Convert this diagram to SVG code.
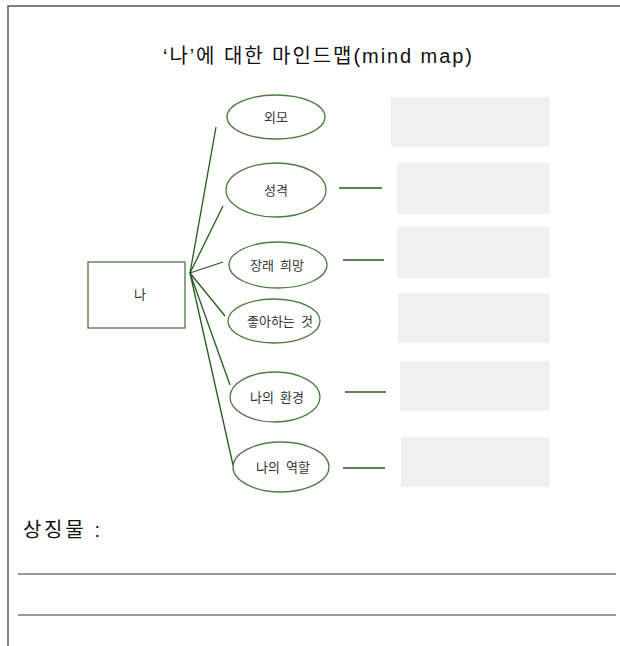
<svg xmlns="http://www.w3.org/2000/svg" width="620" height="646" viewBox="0 0 620 646">
<style>
.frame{stroke:#555;stroke-width:1.5;fill:none}
.ell{fill:#fff;stroke:#4f7a45;stroke-width:1.3}
.box{fill:#f0f0f0}
.con{stroke:#245a1a;stroke-width:1.3;fill:none}
.lbl{font-family:"Liberation Serif","Noto Sans CJK KR",serif;font-size:13px;fill:#333;text-anchor:middle;word-spacing:3px}
.title{font-family:"Liberation Sans","Noto Sans CJK KR",sans-serif;font-size:20px;fill:#111}
.wline{stroke:#333;stroke-width:1.2}
</style>
<rect width="620" height="646" fill="#fff"/>
<path class="frame" d="M8 646 V6 H620"/>
<text class="title" x="163" y="63" textLength="309" lengthAdjust="spacing">‘나’에 대한 마인드맵(mind map)</text>
<g id="connectors">
<line class="con" x1="190" y1="273" x2="216" y2="127"/>
<line class="con" x1="190" y1="273" x2="223" y2="206"/>
<line class="con" x1="190" y1="273" x2="223" y2="262"/>
<line class="con" x1="190" y1="273" x2="225" y2="316"/>
<line class="con" x1="190" y1="273" x2="230" y2="385"/>
<line class="con" x1="190" y1="273" x2="233" y2="465"/>
<line class="con" x1="339" y1="188" x2="382" y2="188"/>
<line class="con" x1="343" y1="260" x2="384" y2="260"/>
<line class="con" x1="345" y1="392" x2="386" y2="392"/>
<line class="con" x1="343" y1="468" x2="385" y2="468"/>
</g>
<g id="me">
<rect x="88" y="262" width="97" height="66" fill="#fff" stroke="#4f7a45" stroke-width="1.3"/>
<text class="lbl" x="140" y="299">나</text>
</g>
<g id="n1"><ellipse class="ell" cx="276" cy="117" rx="49" ry="22"/><text class="lbl" x="276" y="122">외모</text></g>
<g id="n2"><ellipse class="ell" cx="276" cy="190" rx="50" ry="27"/><text class="lbl" x="276" y="195">성격</text></g>
<g id="n3"><ellipse class="ell" cx="278" cy="265" rx="49" ry="23"/><text class="lbl" x="277" y="270">장래 희망</text></g>
<g id="n4"><ellipse class="ell" cx="274" cy="321" rx="46" ry="22"/><text class="lbl" x="280" y="326">좋아하는 것</text></g>
<g id="n5"><ellipse class="ell" cx="275" cy="397" rx="45" ry="25"/><text class="lbl" x="277" y="402">나의 환경</text></g>
<g id="n6"><ellipse class="ell" cx="281" cy="467" rx="48" ry="25"/><text class="lbl" x="283" y="472">나의 역할</text></g>
<g id="boxes">
<rect class="box" x="391" y="97" width="159" height="50"/>
<rect class="box" x="397" y="163" width="153" height="51"/>
<rect class="box" x="397" y="227" width="153" height="51"/>
<rect class="box" x="398" y="293" width="152" height="50"/>
<rect class="box" x="400" y="361" width="150" height="50"/>
<rect class="box" x="401" y="437" width="149" height="50"/>
</g>
<text x="23" y="537" font-family="'Liberation Sans','Noto Sans CJK KR',sans-serif" font-size="20" fill="#111" textLength="77" lengthAdjust="spacing">상징물 :</text>
<line class="wline" x1="18" y1="574" x2="616" y2="574"/>
<line class="wline" x1="18" y1="615" x2="616" y2="615"/>
</svg>
